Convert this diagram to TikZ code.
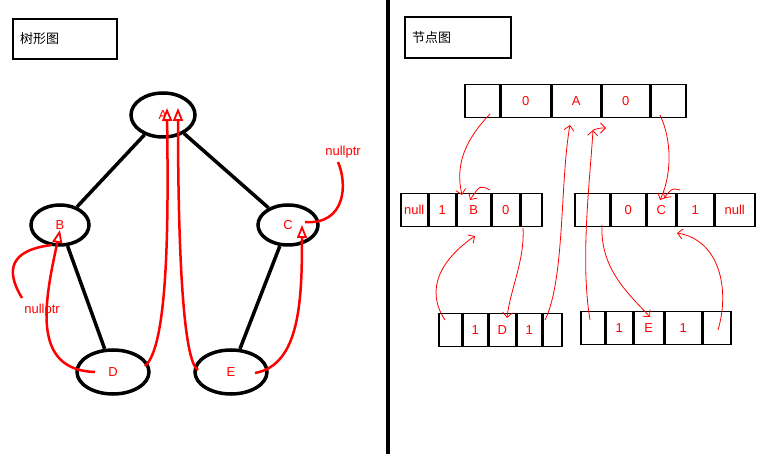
\documentclass[tikz,border=0pt]{standalone}
\usepackage{fontspec}
\setmainfont{Liberation Sans}
\newfontfamily\cjk{Noto Sans CJK SC}
\usetikzlibrary{shapes.geometric,arrows.meta}
\begin{document}
\begin{tikzpicture}[x=1pt,y=-1pt,
  blk/.style={draw=black,line width=3.5pt},
  ell/.style={draw=black,line width=3.5pt,ellipse,minimum width=#1,minimum height=40pt,inner sep=0,text=red,font=\fontsize{13}{15}\selectfont},
  rarr/.style={draw=red,line width=2.5pt,-{Triangle[open,length=13pt,width=10pt,line width=1.8pt,fill=white]}},
  rthin/.style={draw=red,line width=0.8pt,-{Straight Barb[length=5pt]}},
  rline/.style={draw=red,line width=2.5pt},
  cell/.style={draw=black,line width=1.5pt,minimum height=33pt,inner sep=0,text=red,font=\fontsize{13}{15}\selectfont,anchor=north west},
  lab/.style={text=red,font=\fontsize{13}{15}\selectfont}]
\useasboundingbox (0,0) rectangle (766,454);
\fill[white] (0,0) rectangle (766,454);
% boxes
\node[draw=black,line width=2pt,minimum width=104pt,minimum height=40pt,anchor=north west,font=\cjk\fontsize{13}{15}\selectfont,text width=90pt] (t1) at (12,18) {树形图};
\node[draw=black,line width=2pt,minimum width=106pt,minimum height=41pt,anchor=north west,font=\cjk\fontsize{13}{15}\selectfont,text width=92pt] (t2) at (404,16) {节点图};
\draw[black,line width=4pt] (388,0) -- (388,454);
% tree
\node[ell=64pt,minimum height=44pt] (A) at (163,115) {A};
\node[ell=58pt] (B) at (60,225) {B};
\node[ell=60pt] (C) at (288,225) {C};
\node[ell=72pt,minimum height=44pt] (D) at (113,372) {D};
\node[ell=72pt,minimum height=44pt] (E) at (231,372) {E};
\draw[blk] (A) -- (B); \draw[blk] (A) -- (C);
\draw[blk] (B) -- (D); \draw[blk] (C) -- (E);
\coordinate (d1) at (145,366); \coordinate (a1) at (167,108);
\draw[rarr] (d1) .. controls (170,345) and (168,200) .. (a1);
\coordinate (e1) at (198,370); \coordinate (a2) at (178,108);
\draw[rarr] (e1) .. controls (180,360) and (178,200) .. (a2);
\coordinate (e2) at (255,373); \coordinate (c1) at (302,225);
\draw[rarr] (e2) .. controls (300,365) and (302,300) .. (c1);
\coordinate (d2) at (95,372); \coordinate (b1) at (60,230);
\draw[rarr] (d2) .. controls (30,370) and (45,300) .. (b1);
\node[lab] (np1) at (343,152) {nullptr};
\coordinate (c2) at (305,222);
\draw[rline] (338,162) .. controls (348,185) and (345,225) .. (c2);
\node[lab] (np2) at (42,310) {nullptr};
\coordinate (b2) at (52,245);
\draw[rline] (22,298) .. controls (5,270) and (10,250) .. (b2);
% top
\node[cell,minimum width=35pt] (t0) at (464,84) {};
\node[cell,minimum width=49pt] (t1c) at (t0.north east) {0};
\node[cell,minimum width=49pt] (t2c) at (t1c.north east) {A};
\node[cell,minimum width=47pt] (t3c) at (t2c.north east) {0};
\node[cell,minimum width=35pt] (t4c) at (t3c.north east) {};
% middle left
\node[cell,minimum width=27pt] (l0) at (400,193) {null};
\node[cell,minimum width=26pt] (l1) at (l0.north east) {1};
\node[cell,minimum width=34pt] (l2) at (l1.north east) {B};
\node[cell,minimum width=27pt] (l3) at (l2.north east) {0};
\node[cell,minimum width=21pt] (l4) at (l3.north east) {};
% middle right
\node[cell,minimum width=35pt] (r0) at (574,193) {};
\node[cell,minimum width=34pt] (r1) at (r0.north east) {0};
\node[cell,minimum width=29pt] (r2) at (r1.north east) {C};
\node[cell,minimum width=36pt] (r3) at (r2.north east) {1};
\node[cell,minimum width=40pt] (r4) at (r3.north east) {null};
% bottom left
\node[cell,minimum width=23pt] (x0) at (438,313) {};
\node[cell,minimum width=24pt] (x1) at (x0.north east) {1};
\node[cell,minimum width=27pt] (x2) at (x1.north east) {D};
\node[cell,minimum width=24pt] (x3) at (x2.north east) {1};
\node[cell,minimum width=19pt] (x4) at (x3.north east) {};
% bottom right
\node[cell,minimum width=24pt] (y0) at (580,311) {};
\node[cell,minimum width=26pt] (y1) at (y0.north east) {1};
\node[cell,minimum width=30pt] (y2) at (y1.north east) {E};
\node[cell,minimum width=36pt] (y3) at (y2.north east) {1};
\node[cell,minimum width=28pt] (y4) at (y3.north east) {};
% thin red pointers
\draw[rthin] (490,114) .. controls (465,140) and (455,165) .. (462,195);
\draw[rthin] (490,190) .. controls (480,185) .. (470,200);
\draw[rthin] (660,115) .. controls (672,140) and (672,175) .. (660,200);
\draw[rthin] (680,190) .. controls (672,188) .. (664,198);
\draw[rthin] (523,228) .. controls (525,260) and (510,290) .. (507,318);
\draw[rthin] (545,320) .. controls (565,280) and (560,180) .. (570,125);
\draw[rthin] (590,320) .. controls (580,260) and (590,180) .. (593,130);
\draw[rthin] (593,130) .. controls (600,128) .. (606,128);
\draw[rthin] (445,320) .. controls (425,290) and (440,260) .. (475,236);
\draw[rthin] (602,225) .. controls (600,270) and (630,295) .. (650,317);
\draw[rthin] (718,330) .. controls (730,290) and (720,240) .. (677,233);
\end{tikzpicture}
\end{document}
